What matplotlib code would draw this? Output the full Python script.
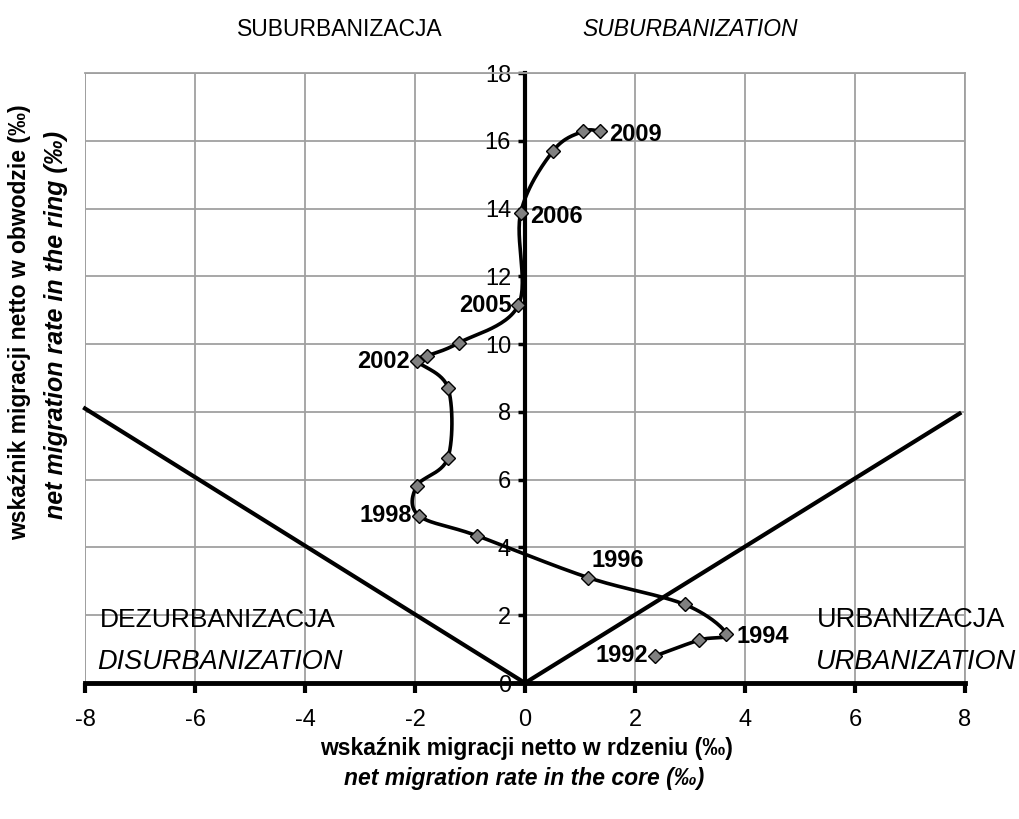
import matplotlib.pyplot as plt
import numpy as np

plt.rcParams['font.family'] = ['Liberation Sans', 'DejaVu Sans']
plt.rcParams['axes.unicode_minus'] = False

years = list(range(1992, 2010))
core = [2.37, 3.17, 3.66, 2.90, 1.15, -0.88, -1.93, -1.97, -1.40, -1.40,
        -1.97, -1.78, -1.20, -0.12, -0.08, 0.51, 1.06, 1.36]
ring = [0.80, 1.27, 1.45, 2.32, 3.11, 4.35, 4.94, 5.81, 6.65, 8.71,
        9.50, 9.65, 10.04, 11.15, 13.86, 15.70, 16.28, 16.28]

labelled = {1992: 'left', 1994: 'right', 1996: 'top', 1998: 'left',
            2002: 'left', 2005: 'left', 2006: 'right', 2009: 'right'}

xticks = [-8, -6, -4, -2, 0, 2, 4, 6, 8]
yticks = [0, 2, 4, 6, 8, 10, 12, 14, 16, 18]


def smooth(x, y, n=30):
    # excel-like smoothed line (catmull-rom bezier)
    p = np.column_stack([x, y])
    p = np.vstack([p[0], p, p[-1]])
    out = []
    t = np.linspace(0, 1, n)[:, None]
    for i in range(1, len(p) - 2):
        p0 = p[i]
        p3 = p[i + 1]
        c1 = p0 + (p[i + 1] - p[i - 1]) / 6
        c2 = p3 - (p[i + 2] - p[i]) / 6
        seg = (1 - t) ** 3 * p0 + 3 * (1 - t) ** 2 * t * c1 + 3 * (1 - t) * t ** 2 * c2 + t ** 3 * p3
        out.append(seg)
    out = np.vstack(out)
    return out[:, 0], out[:, 1]


fig = plt.figure(figsize=(10.2, 8.19), dpi=100)
ax = fig.add_axes([85 / 1020, 136 / 819, 880 / 1020, 610 / 819])

ax.set_xlim(-8, 8)
ax.set_ylim(0, 18)
ax.set_xticks(xticks)
ax.set_yticks(yticks)
ax.grid(True, color='#a0a0a0', linewidth=1.3)
ax.set_axisbelow(True)

ax.spines['left'].set_position(('data', 0))
ax.spines['left'].set_linewidth(3)
ax.spines['bottom'].set_linewidth(3.5)
ax.spines['top'].set_color('#a0a0a0')
ax.spines['right'].set_color('#a0a0a0')
ax.spines['top'].set_linewidth(1.3)
ax.spines['right'].set_linewidth(1.3)
ax.axvline(-8, color='#a0a0a0', linewidth=1.3, zorder=0.5)

ax.tick_params(axis='x', direction='out', length=7, width=3, labelsize=17, pad=12)
ax.tick_params(axis='y', direction='out', length=5, width=2.5, labelsize=17, pad=5)

# dividing lines
ax.plot([-8, 0, 7.9], [8.1, 0, 7.95], color='black', linewidth=3, clip_on=False, zorder=3)

sx, sy = smooth(core, ring)
ax.plot(sx, sy, color='black', linewidth=2.6, zorder=4)
ax.plot(core, ring, linestyle='none', marker='D', markersize=7.5,
        markerfacecolor='#808080', markeredgecolor='black', markeredgewidth=1, zorder=5)

for yr, xv, yv in zip(years, core, ring):
    if yr not in labelled:
        continue
    pos = labelled[yr]
    if pos == 'right':
        ax.annotate(str(yr), (xv, yv), xytext=(7, -2), textcoords='offset points',
                    ha='left', va='center', fontsize=17, fontweight='bold')
    elif pos == 'left':
        ax.annotate(str(yr), (xv, yv), xytext=(-5, 0), textcoords='offset points',
                    ha='right', va='center', fontsize=17, fontweight='bold')
    else:
        ax.annotate(str(yr), (xv, yv), xytext=(2, 4), textcoords='offset points',
                    ha='left', va='bottom', fontsize=17, fontweight='bold')

fig.text(340 / 1020, 1 - 30 / 819, 'SUBURBANIZACJA', ha='center', va='center', fontsize=16.5)
fig.text(690 / 1020, 1 - 30 / 819, 'SUBURBANIZATION', ha='center', va='center', fontsize=16.5, style='italic')
fig.text(218 / 1020, 1 - 620 / 819, 'DEZURBANIZACJA', ha='center', va='center', fontsize=19)
fig.text(220 / 1020, 1 - 662 / 819, 'DISURBANIZATION', ha='center', va='center', fontsize=19.5, style='italic')
fig.text(911 / 1020, 1 - 620 / 819, 'URBANIZACJA', ha='center', va='center', fontsize=19.5)
fig.text(916 / 1020, 1 - 662 / 819, 'URBANIZATION', ha='center', va='center', fontsize=19.5, style='italic')

fig.text(526 / 1020, 1 - 748 / 819, 'wskaźnik migracji netto w rdzeniu (‰)', ha='center', va='center',
         fontsize=16.5, fontweight='bold')
fig.text(524 / 1020, 1 - 778 / 819, 'net migration rate in the core (‰)', ha='center', va='center',
         fontsize=16.5, fontweight='bold', style='italic')
fig.text(20 / 1020, 1 - 322 / 819, 'wskaźnik migracji netto w obwodzie (‰)', ha='center', va='center',
         fontsize=16.5, fontweight='bold', rotation=90)
fig.text(56 / 1020, 1 - 325 / 819, 'net migration rate in the ring (‰)', ha='center', va='center',
         fontsize=18, fontweight='bold', style='italic', rotation=90)

fig.savefig('out.png', dpi=100)
